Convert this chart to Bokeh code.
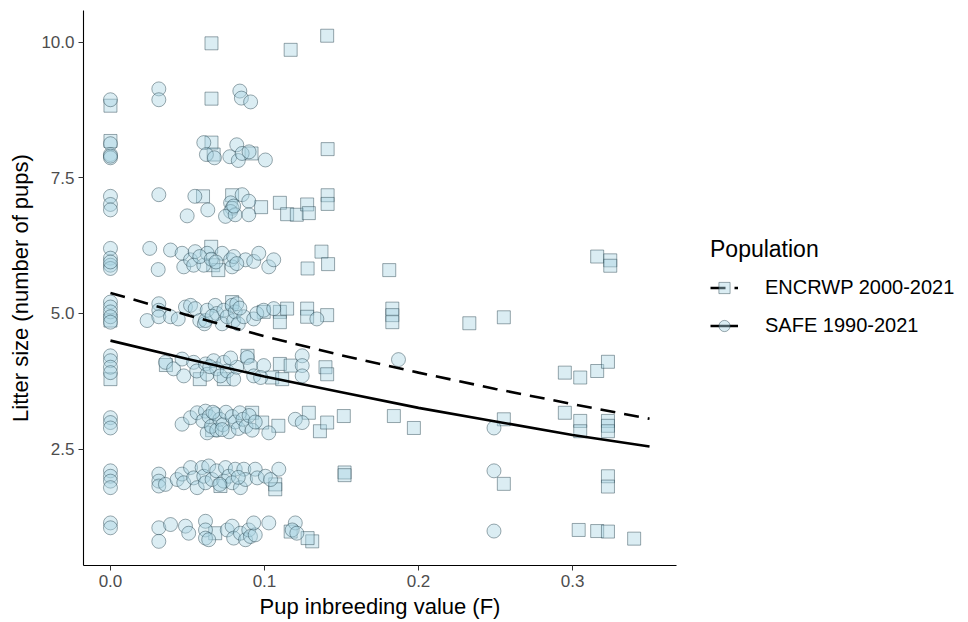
from bokeh.plotting import figure
from bokeh.models import Range1d, FixedTicker, PrintfTickFormatter, Legend, LegendItem
from bokeh.embed import file_html
from bokeh.resources import INLINE

# Pup inbreeding coefficient (F) and litter size (jittered vertically) per litter
safe_F = [
    0.0, 0.0314, 0.0314, 0.084, 0.085, 0.091,
    0.0, 0.0, 0.0, 0.0, 0.0606, 0.0623, 0.0675, 0.0775, 0.082, 0.083, 0.0855, 0.090, 0.1006,
    0.0, 0.0, 0.0, 0.0314, 0.0548, 0.0498, 0.0632, 0.0855, 0.078, 0.079, 0.078, 0.0747, 0.081, 0.0898, 0.0898, 0.080,
    0.0, 0.0, 0.0, 0.0, 0.0, 0.0255, 0.031, 0.039, 0.0465, 0.0476, 0.052, 0.055, 0.054, 0.0606, 0.0628, 0.058,
    0.0725, 0.078, 0.079, 0.080, 0.0877, 0.093, 0.0963, 0.1028, 0.106, 0.082, 0.0655, 0.0685,
    0.0, 0.0, 0.0, 0.0, 0.0, 0.0238, 0.0314, 0.0314, 0.0314, 0.039, 0.044, 0.0487, 0.052, 0.055, 0.058, 0.061,
    0.0617, 0.0628, 0.068, 0.069, 0.0725, 0.0736, 0.0758, 0.079, 0.080, 0.081, 0.082, 0.083, 0.0866, 0.093,
    0.095, 0.0995, 0.106, 0.134, 0.084, 0.066, 0.187,
    0.0, 0.0, 0.0, 0.0, 0.0357, 0.041, 0.0465, 0.0476, 0.054, 0.056, 0.0617, 0.0628, 0.067, 0.069, 0.0714,
    0.0736, 0.0758, 0.080, 0.082, 0.0888, 0.091, 0.093, 0.0995, 0.0975, 0.1245, 0.1245, 0.1245, 0.0645, 0.078,
    0.0, 0.0, 0.0, 0.0465, 0.052, 0.0563, 0.0617, 0.0628, 0.060, 0.064, 0.0655, 0.068, 0.069, 0.071, 0.073,
    0.075, 0.077, 0.079, 0.081, 0.083, 0.084, 0.086, 0.088, 0.090, 0.092, 0.094, 0.1028, 0.120, 0.1245, 0.249,
    0.0665, 0.0725,
    0.0, 0.0, 0.0, 0.0, 0.0314, 0.0314, 0.0314, 0.0357, 0.0433, 0.0465, 0.0476, 0.052, 0.054, 0.0563, 0.0595,
    0.0606, 0.0617, 0.0638, 0.066, 0.069, 0.0736, 0.0747, 0.0768, 0.079, 0.081, 0.0844, 0.0866, 0.0877, 0.094,
    0.0953, 0.1006, 0.104, 0.1093, 0.249, 0.071, 0.083,
    0.0, 0.0, 0.0314, 0.0314, 0.039, 0.0487, 0.0508, 0.0617, 0.0617, 0.0617, 0.0638, 0.0758, 0.079, 0.080,
    0.0844, 0.0877, 0.0898, 0.0909, 0.094, 0.093, 0.1028, 0.120, 0.118, 0.121, 0.249,
]
safe_size = [
    8.94, 9.14, 8.94, 9.10, 8.97, 8.90,
    8.13, 7.93, 7.87, 7.90, 8.15, 7.93, 7.87, 7.89, 8.11, 7.82, 7.95, 7.98, 7.83,
    7.16, 7.01, 6.91, 7.19, 7.16, 6.80, 6.91, 7.19, 7.04, 6.94, 6.88, 6.79, 6.82, 7.07, 6.82, 6.98,
    6.20, 6.02, 5.89, 5.83, 5.95, 6.20, 5.81, 6.17, 6.11, 5.86, 5.99, 6.14, 5.89, 5.89, 6.11, 6.05,
    6.11, 5.99, 5.86, 6.05, 5.99, 5.96, 6.11, 5.86, 5.99, 5.92, 6.00, 5.95,
    5.21, 5.12, 5.03, 4.94, 4.84, 4.87, 5.18, 5.06, 4.94, 4.94, 4.90, 5.12, 5.15, 5.09, 4.87, 4.81,
    4.87, 5.06, 5.15, 5.00, 4.81, 5.06, 4.94, 5.15, 4.87, 5.03, 5.18, 4.81, 4.94, 4.90,
    5.00, 5.06, 5.09, 4.90, 5.10, 4.95, 4.15,
    4.22, 4.13, 4.01, 3.91, 4.10, 3.98, 4.16, 3.85, 4.10, 3.94, 4.07, 3.88, 4.13, 3.98, 3.85,
    4.10, 3.94, 3.79, 4.01, 4.19, 4.04, 3.85, 4.04, 3.82, 4.22, 4.04, 3.85, 4.02, 4.18,
    3.08, 2.99, 2.89, 2.96, 3.08, 3.17, 3.20, 2.80, 3.02, 3.10, 2.92, 3.15, 2.85, 3.05, 2.95,
    3.18, 2.82, 3.10, 3.00, 2.88, 3.17, 3.05, 2.92, 3.12, 2.85, 3.00, 2.80, 3.05, 2.99, 2.89,
    3.18, 2.86,
    2.10, 2.00, 1.91, 1.79, 2.04, 1.91, 1.82, 1.85, 1.94, 2.04, 1.88, 2.16, 1.97, 1.79, 2.16,
    2.00, 1.88, 2.19, 1.94, 2.10, 1.91, 2.16, 2.00, 1.88, 2.13, 1.79, 2.13, 1.94, 2.13,
    1.97, 2.00, 1.94, 2.13, 2.10, 1.85, 1.98,
    1.14, 1.05, 1.05, 0.80, 1.11, 1.08, 0.95, 1.17, 1.01, 0.86, 0.83, 1.01, 1.08, 0.86,
    0.95, 0.83, 1.01, 0.89, 0.92, 1.14, 1.14, 1.14, 1.01, 0.95, 0.99,
]

encr_F = [
    0.0656, 0.117, 0.1407,
    0.0, 0.0656,
    0.0, 0.0656, 0.067, 0.0916, 0.141,
    0.0601, 0.079, 0.0978, 0.110, 0.1147, 0.121, 0.1277, 0.1288, 0.141, 0.141,
    0.0654, 0.0667, 0.070, 0.128, 0.137, 0.1413, 0.181, 0.316, 0.3245, 0.3245,
    0.0, 0.079, 0.0995, 0.110, 0.110, 0.1147, 0.1277, 0.1277, 0.1407, 0.183, 0.183, 0.183, 0.233, 0.2554,
    0.0, 0.058, 0.0736, 0.089, 0.105, 0.110, 0.117, 0.1115, 0.1396, 0.1407, 0.295, 0.305, 0.316, 0.323, 0.036,
    0.092, 0.0985, 0.109, 0.1288, 0.136, 0.1407, 0.1515, 0.184, 0.197, 0.2554, 0.295, 0.305, 0.305, 0.323,
    0.323, 0.323, 0.066,
    0.0714, 0.107, 0.107, 0.152, 0.152, 0.2554, 0.323, 0.323,
    0.068, 0.117, 0.131, 0.128, 0.304, 0.316, 0.323, 0.340,
]
encr_size = [
    9.98, 9.86, 10.12,
    8.83, 8.96,
    8.18, 8.15, 7.93, 7.95, 8.03,
    7.16, 7.18, 6.96, 7.04, 6.83, 6.82, 7.01, 6.85, 7.18, 7.02,
    6.23, 5.89, 5.80, 5.83, 6.14, 5.91, 5.80, 6.05, 5.98, 5.88,
    4.87, 5.21, 5.03, 5.03, 4.84, 5.09, 5.09, 4.94, 4.97, 5.09, 4.97, 4.84, 4.82, 4.93,
    3.79, 3.79, 3.79, 4.22, 3.82, 4.07, 4.04, 3.79, 4.01, 3.88, 3.91, 3.82, 3.94, 4.11, 4.05,
    3.17, 2.99, 2.93, 3.17, 2.83, 2.99, 3.11, 3.11, 2.89, 3.05, 3.17, 3.02, 2.83, 3.02,
    2.93, 2.83, 2.85,
    1.82, 1.85, 1.76, 2.07, 2.02, 1.86, 2.00, 1.81,
    0.95, 0.98, 0.80, 0.86, 1.01, 0.99, 0.98, 0.85,
]

# Fitted litter size along the inbreeding gradient, per population
fit_F = [0.0, 0.05, 0.10, 0.15, 0.20, 0.25, 0.30, 0.35]
encr_fit = [5.38, 4.97, 4.58, 4.23, 3.91, 3.61, 3.33, 3.06]
safe_fit = [4.50, 4.16, 3.84, 3.55, 3.26, 3.01, 2.76, 2.55]

x_ticks = [0.0, 0.1, 0.2, 0.3]
y_ticks = [2.5, 5.0, 7.5, 10.0]

FONT = "Liberation Sans"
FILL = "#a9d4e2"
EDGE = "#24404c"

p = figure(
    frame_width=593, frame_height=555,
    x_range=Range1d(-0.0175, 0.3675), y_range=Range1d(0.355, 10.585),
    output_backend="svg", toolbar_location=None,
    min_border_left=83, min_border_right=0, min_border_top=10, min_border_bottom=50,
)
p.outline_line_color = None
p.xgrid.visible = False
p.ygrid.visible = False
p.background_fill_color = "white"
p.border_fill_color = "white"

encr_pts = p.scatter(encr_F, encr_size, marker="square", size=13,
                     fill_color=FILL, fill_alpha=0.42, line_color=EDGE, line_alpha=0.45, line_width=1)
safe_pts = p.scatter(safe_F, safe_size, marker="circle", size=14,
                     fill_color=FILL, fill_alpha=0.42, line_color=EDGE, line_alpha=0.45, line_width=1)

encr_line = p.line(fit_F, encr_fit, line_color="black", line_width=2.6, line_dash="15 9")
safe_line = p.line(fit_F, safe_fit, line_color="black", line_width=2.6)

for ax in (p.xaxis[0], p.yaxis[0]):
    ax.axis_line_color = "black"
    ax.axis_line_width = 1.1
    ax.major_tick_line_color = "#333333"
    ax.major_tick_in = 0
    ax.major_tick_out = 5
    ax.minor_tick_line_color = None
    ax.major_label_text_font = FONT
    ax.major_label_text_font_size = "17px"
    ax.major_label_text_color = "#4d4d4d"
    ax.axis_label_text_font = FONT
    ax.axis_label_text_font_size = "22px"
    ax.axis_label_text_font_style = "normal"
    ax.axis_label_text_color = "black"
    ax.formatter = PrintfTickFormatter(format="%.1f")

p.xaxis.ticker = FixedTicker(ticks=x_ticks)
p.yaxis.ticker = FixedTicker(ticks=y_ticks)
p.xaxis.axis_label = "Pup inbreeding value (F)"
p.yaxis.axis_label = "Litter size (number of pups)"
p.xaxis.major_label_standoff = 4
p.yaxis.major_label_standoff = 4
p.xaxis.axis_label_standoff = 4
p.yaxis.axis_label_standoff = 5

legend = Legend(
    items=[
        LegendItem(label="ENCRWP 2000-2021", renderers=[encr_line, encr_pts]),
        LegendItem(label="SAFE 1990-2021", renderers=[safe_line, safe_pts]),
    ],
    location="center_left",
    title="Population",
    title_text_font=FONT, title_text_font_size="23px", title_text_font_style="normal",
    title_text_color="black",
    label_text_font=FONT, label_text_font_size="20px", label_text_color="black",
    glyph_width=28, glyph_height=30, label_standoff=27, spacing=8, title_standoff=10,
    border_line_color=None, background_fill_alpha=0,
    margin=34, padding=2,
)
p.add_layout(legend, "right")

open("out.html", "w").write(file_html(p, INLINE))
